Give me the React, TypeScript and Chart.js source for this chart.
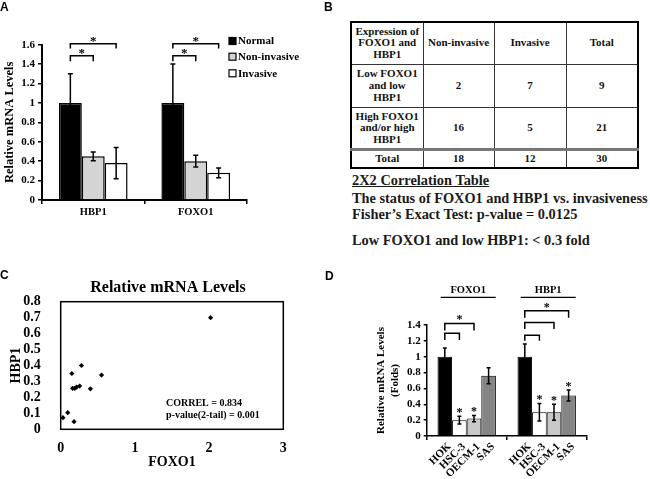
import React, { useEffect, useRef } from 'react';
import { Chart, registerables } from 'chart.js';

Chart.register(...registerables);

const SERIF = "'Liberation Serif', 'Times New Roman', serif";
const SANS = "'Liberation Sans', Arial, sans-serif";

// ---------- Panel A data ----------
const genesA = ['HBP1', 'FOXO1'];
const groupsA = ['Normal', 'Non-invasive', 'Invasive'];
const normalA = [1.0, 1.0];
const nonInvasiveA = [0.45, 0.4];
const invasiveA = [0.38, 0.28];
const normalErrA = [0.3, 0.4];
const nonInvasiveErrA = [0.045, 0.06];
const invasiveErrA = [0.16, 0.05];

// ---------- Panel B data ----------
const tableHeader = ['Expression of\nFOXO1 and\nHBP1', 'Non-invasive', 'Invasive', 'Total'];
const rowLabelsB = ['Low FOXO1\nand low\nHBP1', 'High FOXO1\nand/or high\nHBP1', 'Total'];
const nonInvasiveCounts = [2, 16, 18];
const invasiveCounts = [7, 5, 12];
const totalCounts = [9, 21, 30];
const notesB = [
  '2X2 Correlation Table',
  'The status of FOXO1 and HBP1 vs. invasiveness',
  'Fisher\u2019s Exact Test: p-value = 0.0125',
  'Low FOXO1 and low HBP1: < 0.3 fold',
];

// ---------- Panel C data ----------
const titleC = 'Relative mRNA Levels';
const foxo1Rel = [2.02, 0.28, 0.15, 0.55, 0.16, 0.19, 0.215, 0.255, 0.4, 0.095, 0.03, 0.18];
const hbp1Rel = [0.7, 0.4, 0.35, 0.34, 0.257, 0.257, 0.265, 0.271, 0.254, 0.104, 0.073, 0.048];
const statsC = ['CORREL = 0.834', 'p-value(2-tail) = 0.001'];

// ---------- Panel D data ----------
const genesD = ['FOXO1', 'HBP1'];
const cellLines = ['HOK', 'HSC-3', 'OECM-1', 'SAS'];
const hokD = [1.0, 1.0];
const hsc3D = [0.2, 0.3];
const oecm1D = [0.22, 0.3];
const sasD = [0.76, 0.51];
const hokErrD = [0.11, 0.16];
const hsc3ErrD = [0.05, 0.11];
const oecm1ErrD = [0.04, 0.1];
const sasErrD = [0.1, 0.07];
const hsc3Sig = [true, true];
const oecm1Sig = [true, true];
const sasSig = [false, true];

const fmt = (v: any) => String(+(+v).toFixed(2));

function drawStar(ctx: CanvasRenderingContext2D, x: number, cy: number, size: number) {
  ctx.save();
  ctx.font = `bold ${size}px ${SERIF}`;
  ctx.fillStyle = '#000';
  ctx.textAlign = 'center';
  ctx.textBaseline = 'alphabetic';
  ctx.fillText('*', x, cy + size * 0.5);
  ctx.restore();
}

function drawErrors(chart: any, errs: number[][], cap: number, lw: number) {
  const ctx = chart.ctx;
  const y = chart.scales.y;
  ctx.save();
  ctx.strokeStyle = '#000';
  ctx.lineWidth = lw;
  chart.data.datasets.forEach((ds: any, i: number) => {
    chart.getDatasetMeta(i).data.forEach((el: any, j: number) => {
      const v = ds.data[j];
      const e = errs[i][j];
      const yt = y.getPixelForValue(v + e);
      const yb = y.getPixelForValue(v - e);
      ctx.beginPath();
      ctx.moveTo(el.x, yt);
      ctx.lineTo(el.x, yb);
      ctx.moveTo(el.x - cap, yt);
      ctx.lineTo(el.x + cap, yt);
      ctx.moveTo(el.x - cap, yb);
      ctx.lineTo(el.x + cap, yb);
      ctx.stroke();
    });
  });
  ctx.restore();
}

type Bracket = { cat: number; from: number; to: number; y: number; drop: number; star?: number };

function drawBrackets(chart: any, brackets: Bracket[], lw: number, starSize: number) {
  const ctx = chart.ctx;
  const y = chart.scales.y;
  ctx.save();
  ctx.strokeStyle = '#000';
  ctx.lineWidth = lw;
  brackets.forEach((b) => {
    const x1 = chart.getDatasetMeta(b.from).data[b.cat].x;
    const x2 = chart.getDatasetMeta(b.to).data[b.cat].x;
    const yl = y.getPixelForValue(b.y);
    const yd = y.getPixelForValue(b.drop);
    ctx.beginPath();
    ctx.moveTo(x1, yd);
    ctx.lineTo(x1, yl);
    ctx.lineTo(x2, yl);
    ctx.lineTo(x2, yd);
    ctx.stroke();
    if (b.star !== undefined) drawStar(ctx, (x1 + x2) / 2, y.getPixelForValue(b.star), starSize);
  });
  ctx.restore();
}

// ---------- Panel A ----------
const bracketsA: Bracket[] = [
  { cat: 0, from: 0, to: 1, y: 1.487, drop: 1.43, star: 1.545 },
  { cat: 0, from: 0, to: 2, y: 1.61, drop: 1.56, star: 1.66 },
  { cat: 1, from: 0, to: 1, y: 1.487, drop: 1.43, star: 1.545 },
  { cat: 1, from: 0, to: 2, y: 1.61, drop: 1.56, star: 1.66 },
];

const pluginA = {
  id: 'annotA',
  afterDatasetsDraw(chart: any) {
    drawErrors(chart, [normalErrA, nonInvasiveErrA, invasiveErrA], 2.5, 1.5);
    drawBrackets(chart, bracketsA, 1.5, 13);
  },
  afterDraw(chart: any) {
    const ctx = chart.ctx;
    ctx.save();
    const rows = [41, 56.7, 73.3];
    chart.data.datasets.forEach((ds: any, i: number) => {
      const cy = rows[i];
      ctx.fillStyle = ds.backgroundColor;
      ctx.fillRect(229, cy - 3.5, 7, 7);
      ctx.strokeStyle = '#000';
      ctx.lineWidth = 1.2;
      ctx.strokeRect(229, cy - 3.5, 7, 7);
      ctx.fillStyle = '#000';
      ctx.font = `bold 11px ${SERIF}`;
      ctx.textAlign = 'left';
      ctx.textBaseline = 'middle';
      ctx.fillText(ds.label, 238, cy + 0.5);
    });
    ctx.restore();
  },
};

const makeA = () => ({
  type: 'bar',
  data: {
    labels: genesA,
    datasets: [
      { label: groupsA[0], data: normalA, backgroundColor: '#000000', borderColor: '#000', borderWidth: 1.5 },
      { label: groupsA[1], data: nonInvasiveA, backgroundColor: '#d4d4d4', borderColor: '#000', borderWidth: 1.5 },
      { label: groupsA[2], data: invasiveA, backgroundColor: '#ffffff', borderColor: '#000', borderWidth: 1.5 },
    ],
  },
  options: {
    responsive: false,
    animation: false,
    events: [],
    layout: { padding: { top: 44.7, right: 83, left: 0, bottom: 0 } },
    datasets: { bar: { barPercentage: 1, categoryPercentage: 0.67 } },
    plugins: { legend: { display: false }, tooltip: { enabled: false } },
    scales: {
      x: {
        grid: { display: true, drawOnChartArea: false, drawTicks: true, tickLength: 4, color: '#000', lineWidth: 1.5 },
        border: { display: true, color: '#000', width: 2 },
        ticks: { color: '#000', font: { family: SERIF, size: 10.5, weight: 'bold' }, padding: 2 },
        afterFit: (s: any) => { s.height = 35; },
      },
      y: {
        min: 0,
        max: 1.6,
        ticks: { stepSize: 0.2, autoSkip: false, color: '#000', font: { family: SERIF, size: 11, weight: 'bold' }, padding: 3, callback: fmt },
        grid: { drawOnChartArea: false, tickLength: 4, color: '#000', lineWidth: 1.5 },
        border: { color: '#000', width: 2 },
        title: { display: true, text: 'Relative mRNA Levels', color: '#000', font: { family: SERIF, size: 12.5, weight: 'bold' }, padding: { top: 2, bottom: 0 } },
        afterFit: (s: any) => { s.width = 42; },
      },
    },
  },
  plugins: [pluginA],
});

// ---------- Panel C ----------
const pluginC = {
  id: 'annotC',
  afterDraw(chart: any) {
    const ctx = chart.ctx;
    const a = chart.chartArea;
    ctx.save();
    ctx.strokeStyle = '#000';
    ctx.lineWidth = 1.5;
    ctx.strokeRect(a.left, a.top, a.right - a.left, a.bottom - a.top);
    ctx.fillStyle = '#000';
    ctx.font = `bold 16px ${SERIF}`;
    ctx.textAlign = 'center';
    ctx.textBaseline = 'middle';
    ctx.fillText(titleC, 168, 48);
    ctx.font = `bold 10px ${SERIF}`;
    ctx.textAlign = 'left';
    ctx.fillText(statsC[0], 166, 163.5);
    ctx.fillText(statsC[1], 166, 175.5);
    ctx.restore();
  },
};

const makeC = () => ({
  type: 'scatter',
  data: {
    datasets: [
      {
        label: 'HBP1 vs FOXO1',
        data: foxo1Rel.map((x, i) => ({ x, y: hbp1Rel[i] })),
        backgroundColor: '#000',
        borderColor: '#000',
        borderWidth: 0,
        pointStyle: 'rectRot',
        pointRadius: 2.6,
      },
    ],
  },
  options: {
    responsive: false,
    animation: false,
    events: [],
    layout: { padding: { top: 61.7, right: 46.7, left: 0, bottom: 0 } },
    plugins: { legend: { display: false }, tooltip: { enabled: false } },
    scales: {
      x: {
        type: 'linear',
        min: 0,
        max: 3,
        ticks: { stepSize: 1, autoSkip: false, color: '#000', font: { family: SERIF, size: 14, weight: 'bold' }, padding: 3, callback: fmt },
        grid: { display: false },
        border: { display: false },
        title: { display: true, text: 'FOXO1', color: '#000', font: { family: SERIF, size: 14, weight: 'bold' }, padding: { top: 0, bottom: 8.5 } },
        afterFit: (s: any) => { s.height = 49.7; },
      },
      y: {
        type: 'linear',
        min: 0,
        max: 0.8,
        ticks: { stepSize: 0.1, autoSkip: false, color: '#000', font: { family: SERIF, size: 14, weight: 'bold' }, padding: 12, callback: fmt },
        grid: { display: false },
        border: { display: false },
        title: { display: true, text: 'HBP1', color: '#000', font: { family: SERIF, size: 14, weight: 'bold' }, padding: { top: 8.3, bottom: 0 } },
        afterFit: (s: any) => { s.width = 60.7; },
      },
    },
  },
  plugins: [pluginC],
});

// ---------- Panel D ----------
const bracketsD: Bracket[] = [
  { cat: 0, from: 0, to: 1, y: 1.295, drop: 1.21 },
  { cat: 0, from: 0, to: 2, y: 1.42, drop: 1.33, star: 1.5 },
  { cat: 1, from: 0, to: 1, y: 1.27, drop: 1.2 },
  { cat: 1, from: 0, to: 2, y: 1.43, drop: 1.35 },
  { cat: 1, from: 0, to: 3, y: 1.58, drop: 1.49, star: 1.655 },
];

const pluginD = {
  id: 'annotD',
  afterDatasetsDraw(chart: any) {
    const errs = [hokErrD, hsc3ErrD, oecm1ErrD, sasErrD];
    const sigs = [[false, false], hsc3Sig, oecm1Sig, sasSig];
    drawErrors(chart, errs, 2, 1.5);
    drawBrackets(chart, bracketsD, 1.5, 12);
    const ctx = chart.ctx;
    const y = chart.scales.y;
    const x = chart.scales.x;
    chart.data.datasets.forEach((ds: any, i: number) => {
      chart.getDatasetMeta(i).data.forEach((el: any, j: number) => {
        if (sigs[i][j]) drawStar(ctx, el.x, y.getPixelForValue(ds.data[j] + errs[i][j]) - 6, 12);
      });
    });
    ctx.save();
    ctx.fillStyle = '#000';
    ctx.strokeStyle = '#000';
    ctx.lineWidth = 1.2;
    ctx.font = `bold 10.5px ${SERIF}`;
    ctx.textAlign = 'center';
    ctx.textBaseline = 'middle';
    chart.data.labels.forEach((lab: string, j: number) => {
      const cx = x.getPixelForValue(j) + 1.5;
      ctx.fillText(lab, cx, 10.5);
      ctx.beginPath();
      ctx.moveTo(cx - 27.5, 17.3);
      ctx.lineTo(cx + 27.5, 17.3);
      ctx.stroke();
    });
    // rotated per-bar labels
    ctx.font = `bold 11px ${SERIF}`;
    ctx.textAlign = 'right';
    ctx.textBaseline = 'middle';
    const axisY = chart.chartArea.bottom;
    chart.data.datasets.forEach((ds: any, i: number) => {
      chart.getDatasetMeta(i).data.forEach((el: any) => {
        ctx.save();
        ctx.translate(el.x + 4.5, axisY + 9);
        ctx.rotate(-Math.PI / 4);
        ctx.fillText(ds.label, 0, 0);
        ctx.restore();
      });
    });
    ctx.restore();
  },
};

const makeD = () => ({
  type: 'bar',
  data: {
    labels: genesD,
    datasets: [
      { label: cellLines[0], data: hokD, backgroundColor: '#000000', borderColor: '#000', borderWidth: 1 },
      { label: cellLines[1], data: hsc3D, backgroundColor: '#ffffff', borderColor: '#000', borderWidth: 1 },
      { label: cellLines[2], data: oecm1D, backgroundColor: '#c8c8c8', borderColor: '#000', borderWidth: 1 },
      { label: cellLines[3], data: sasD, backgroundColor: '#858585', borderColor: '#000', borderWidth: 1 },
    ],
  },
  options: {
    responsive: false,
    animation: false,
    events: [],
    layout: { padding: { top: 45, right: 63.3, left: 0, bottom: 0 } },
    datasets: { bar: { barPercentage: 1, categoryPercentage: 0.73 } },
    plugins: { legend: { display: false }, tooltip: { enabled: false } },
    scales: {
      x: {
        grid: { display: true, drawOnChartArea: false, drawTicks: true, tickLength: 4, color: '#000', lineWidth: 1.5 },
        border: { display: true, color: '#000', width: 1.5 },
        ticks: { display: false },
        afterFit: (s: any) => { s.height = 43; },
      },
      y: {
        min: 0,
        max: 1.4,
        ticks: { stepSize: 0.2, autoSkip: false, color: '#000', font: { family: SERIF, size: 11, weight: 'bold' }, padding: 3, callback: fmt },
        grid: { drawOnChartArea: false, tickLength: 3, color: '#000', lineWidth: 1.5 },
        border: { color: '#000', width: 1.5 },
        title: { display: true, text: ['Relative mRNA Levels', '(Folds)'], color: '#000', font: { family: SERIF, size: 11, weight: 'bold', lineHeight: 1.2 }, padding: { top: 45, bottom: 0 } },
        afterFit: (s: any) => { s.width = 96.7; },
      },
    },
  },
  plugins: [pluginD],
});

function ChartBox({ make, left, top, width, height }: any) {
  const ref = useRef<HTMLCanvasElement | null>(null);
  useEffect(() => {
    const chart = new Chart(ref.current as HTMLCanvasElement, make());
    return () => chart.destroy();
  }, []);
  return (
    <div style={{ position: 'absolute', left, top, width, height }}>
      <canvas ref={ref} width={width} height={height} style={{ display: 'block', width, height }} />
    </div>
  );
}

const panelLabel = (t: string, left: number, top: number) => (
  <div style={{ position: 'absolute', left, top, font: `bold 12px ${SANS}`, lineHeight: '12px', color: '#000' }}>{t}</div>
);

function TableB() {
  const cell: React.CSSProperties = {
    border: '1px solid #333',
    textAlign: 'center',
    verticalAlign: 'middle',
    padding: 0,
    whiteSpace: 'pre-line',
    lineHeight: '11.8px',
  };
  const rowsB = rowLabelsB.map((lab, i) => [lab, nonInvasiveCounts[i], invasiveCounts[i], totalCounts[i]]);
  const heights = [43, 42, 18];
  return (
    <table
      style={{
        position: 'absolute',
        left: 350,
        top: 21,
        width: 289,
        height: 148,
        borderCollapse: 'collapse',
        tableLayout: 'fixed',
        border: '2.5px solid #000',
        font: `bold 11px ${SERIF}`,
        color: '#111',
      }}
    >
      <colgroup>
        <col style={{ width: 72 }} />
        <col style={{ width: 71 }} />
        <col style={{ width: 72 }} />
        <col style={{ width: 72 }} />
      </colgroup>
      <tbody>
        <tr style={{ height: 42 }}>
          {tableHeader.map((h, i) => (
            <td key={i} style={cell}>{h}</td>
          ))}
        </tr>
        {rowsB.map((r, i) => (
          <tr key={i} style={{ height: heights[i] }}>
            {r.map((c, k) => (
              <td key={k} style={{ ...cell, ...(i === 2 ? { borderTop: '3px solid #777' } : {}) }}>{String(c)}</td>
            ))}
          </tr>
        ))}
      </tbody>
    </table>
  );
}

export default function App() {
  const noteTops = [172, 189.5, 206, 232];
  const noteSizes = [14.4, 14.3, 14.4, 14.4];
  return (
    <div style={{ position: 'absolute', left: 0, top: 0, width: 650, height: 479, background: '#fff', overflow: 'hidden' }}>
      <ChartBox make={makeA} left={0} top={0} width={330} height={235} />
      <ChartBox make={makeC} left={0} top={240} width={330} height={239} />
      <ChartBox make={makeD} left={330} top={280} width={320} height={199} />
      <TableB />
      {notesB.map((t, i) => (
        <div
          key={i}
          style={{
            position: 'absolute',
            left: 352,
            top: noteTops[i],
            font: `bold ${noteSizes[i]}px ${SERIF}`,
            lineHeight: '16px',
            color: '#1a1a1a',
            whiteSpace: 'nowrap',
            textDecoration: i === 0 ? 'underline' : 'none',
          }}
        >
          {t}
        </div>
      ))}
      {panelLabel('A', 0, 1)}
      {panelLabel('B', 324, 1)}
      {panelLabel('C', 0, 269)}
      {panelLabel('D', 325, 270)}
    </div>
  );
}
